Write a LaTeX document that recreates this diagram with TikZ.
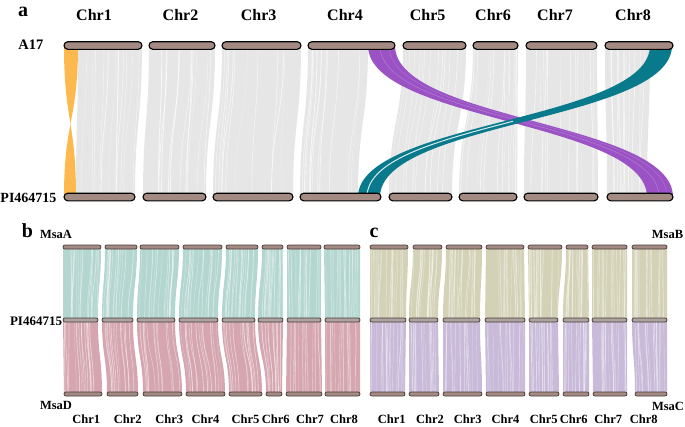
\documentclass[tikz,border=0pt]{standalone}
\usepackage{fontspec}
\setmainfont{Liberation Serif}
\definecolor{barbrown}{HTML}{A38A82}
\definecolor{barmid}{HTML}{ADA3A1}
\definecolor{barline}{HTML}{4A3C39}
\definecolor{ribgray}{HTML}{E6E6E6}
\definecolor{orng}{HTML}{FDB94D}
\definecolor{purp}{HTML}{9A52C4}
\definecolor{tealx}{HTML}{087A8B}
\definecolor{bteal}{HTML}{B4D6D0}
\definecolor{bpink}{HTML}{D5A6AF}
\definecolor{ckhaki}{HTML}{D4D2B6}
\definecolor{clav}{HTML}{C8BAD8}
% ribbon: color, x1t, x2t, yt, x1b, x2b, yb
\newcommand\ribbon[7]{%
  \pgfmathsetmacro\rym{(#4+#7)/2}%
  \fill[#1] (#2,#4) .. controls (#2,\rym) and (#5,\rym) .. (#5,#7) -- (#6,#7) .. controls (#6,\rym) and (#3,\rym) .. (#3,#4) -- cycle;}
% streaks: n, x1t, x2t, yt, x1b, x2b, yb, opacity
\newcommand\streaks[8]{%
  \pgfmathsetmacro\rym{(#4+#7)/2}%
  \foreach \k in {1,...,#1}{%
    \pgfmathsetmacro\su{0.03+0.94*rnd}%
    \pgfmathsetmacro\sv{min(0.97,max(0.03,\su+0.12*(rnd-0.5)))}%
    \pgfmathsetmacro\sw{0.2+0.7*rnd}%
    \pgfmathsetmacro\xa{#2+\su*(#3-#2)}%
    \pgfmathsetmacro\xb{#5+\sv*(#6-#5)}%
    \draw[white, line width=\sw pt, opacity=#8] (\xa,#4) .. controls (\xa,\rym) and (\xb,\rym) .. (\xb,#7);
  }}
\tikzset{
  abar/.style={fill=barbrown, draw=black, line width=1.1pt, rounded corners=3.8pt},
  bbar/.style={fill=barbrown, draw=barline, line width=0.7pt, rounded corners=2pt},
  mbar/.style={fill=barmid, draw=barline, line width=0.7pt, rounded corners=2pt},
  bigchr/.style={font=\fontsize{16}{16}\selectfont\bfseries},
  smallchr/.style={font=\fontsize{12.5}{12.5}\selectfont\bfseries},
  genlab/.style={font=\fontsize{14}{14}\selectfont\bfseries},
  sublab/.style={font=\fontsize{12.5}{12.5}\selectfont\bfseries},
  panlab/.style={font=\fontsize{20}{20}\selectfont\bfseries, inner sep=0pt}
}
\begin{document}
\begin{tikzpicture}[x=1pt,y=-1pt]
\useasboundingbox (0,0) rectangle (685,426);
\pgfmathsetseed{7}
% ---------------- panel a ----------------
\def\yt{45.5}\def\yb{197}
\foreach \a/\b/\c/\d in {78/142/76/135,149/215/143/206,222/301/213/293,308/368/300/358,403/466/389/452,473/518/459/517,526/597/524/598,605/650/607/647}{
  \ribbon{ribgray}{\a}{\b}{\yt}{\c}{\d}{\yb}
  \streaks{12}{\a}{\b}{\yt}{\c}{\d}{\yb}{0.6}
}
% orange inversion on Chr1
\fill[orng] (64,\yt) .. controls (64,121) and (76,121) .. (76,\yb) -- (64,\yb) .. controls (64,121) and (78,121) .. (78,\yt) -- cycle;
% purple Chr4 -> Chr8
\ribbon{purp}{368}{395}{\yt}{647}{673}{\yb}
\draw[white, opacity=0.25, line width=0.5pt] (380,\yt) .. controls (380,121) and (659,121) .. (659,\yb);
\draw[white, opacity=0.2, line width=0.4pt] (389,\yt) .. controls (389,121) and (667,121) .. (667,\yb);
% teal Chr8 -> Chr4
\ribbon{tealx}{650}{672}{\yt}{358}{380}{\yb}
\draw[white, opacity=0.85, line width=1pt] (513,121.25) .. controls (440,140.2) and (367,159.1) .. (367,\yb);
% bars
\foreach \a/\b in {64/142,149/215,222/301,308/395,403/466,473/518,526/597,605/673}{
  \draw[abar] (\a,41.7) rectangle (\b,49.3);
}
\foreach \a/\b in {64/135,143/206,213/293,300/381,389/452,459/517,524/598,607/673}{
  \draw[abar] (\a,193.2) rectangle (\b,200.8);
}
\node[panlab] (la) at (23,12) {a};
\foreach \x/\n in {94/1,180.5/2,258.7/3,345/4,427.7/5,493/6,555/7,633/8}{
  \node[bigchr] (ac\n) at (\x,15.5) {Chr\n};
}
\node[genlab, font=\fontsize{14.5}{14.5}\selectfont\bfseries] (a17) at (30.8,45) {A17};
\node[genlab] (api) at (28.5,198) {PI464715};
% ---------------- panel b ----------------
\def\ya{247}\def\ym{320}\def\yd{394}
\foreach \a/\b/\c/\d/\e/\f in {63/101/63/98/64/102,105/137/102/133/107/138,140/179/137/175/143/182,183/222/179/218/186/225,226/258/222/255/229/262,262/283/258/283/266/282,287/321/287/321/286/322,324/360/325/360/325/360}{
  \ribbon{bteal}{\a}{\b}{\ya}{\c}{\d}{\ym}
  \streaks{14}{\a}{\b}{\ya}{\c}{\d}{\ym}{0.45}
  \ribbon{bpink}{\c}{\d}{\ym}{\e}{\f}{\yd}
  \streaks{14}{\c}{\d}{\ym}{\e}{\f}{\yd}{0.45}
  \draw[bbar] (\a,{\ya-2}) rectangle (\b,{\ya+2});
  \draw[mbar] (\c,{\ym-2}) rectangle (\d,{\ym+2});
  \draw[bbar] (\e,{\yd-2}) rectangle (\f,{\yd+2});
}
\node[panlab] (lb) at (27.5,231) {b};
\node[sublab] (msaa) at (56,234) {MsaA};
\node[genlab, font=\fontsize{13}{13}\selectfont\bfseries] (bpi) at (36,321) {PI464715};
\node[sublab] (msad) at (56,405) {MsaD};
\foreach \x/\n in {86.3/1,127.8/2,169.3/3,205.5/4,245.5/5,275.8/6,310/7,344/8}{
  \node[smallchr] (bc\n) at (\x,419.5) {Chr\n};
}
% ---------------- panel c ----------------
\foreach \a/\b/\c/\d/\e/\f in {370/408/370/406/370/405,413/442/409/438/409/439,446/482/443/480/443/482,486/524/485/525/486/525,528/562/529/558/529/559,566/588/563/589/563/589,592/627/592/627/593/627,632/667/632/667/635/667}{
  \ribbon{ckhaki}{\a}{\b}{\ya}{\c}{\d}{\ym}
  \streaks{14}{\a}{\b}{\ya}{\c}{\d}{\ym}{0.45}
  \ribbon{clav}{\c}{\d}{\ym}{\e}{\f}{\yd}
  \streaks{14}{\c}{\d}{\ym}{\e}{\f}{\yd}{0.45}
  \draw[bbar] (\a,{\ya-2}) rectangle (\b,{\ya+2});
  \draw[mbar] (\c,{\ym-2}) rectangle (\d,{\ym+2});
  \draw[bbar] (\e,{\yd-2}) rectangle (\f,{\yd+2});
}
\node[panlab] (lc) at (374,233) {c};
\node[sublab] (msab) at (667.5,234.5) {MsaB};
\node[sublab] (msac) at (668,406) {MsaC};
\foreach \x/\n in {391.7/1,430/2,467.8/3,505.5/4,543.7/5,573.7/6,608.3/7,643.8/8}{
  \node[smallchr] (cc\n) at (\x,419.5) {Chr\n};
}
\end{tikzpicture}
\end{document}
